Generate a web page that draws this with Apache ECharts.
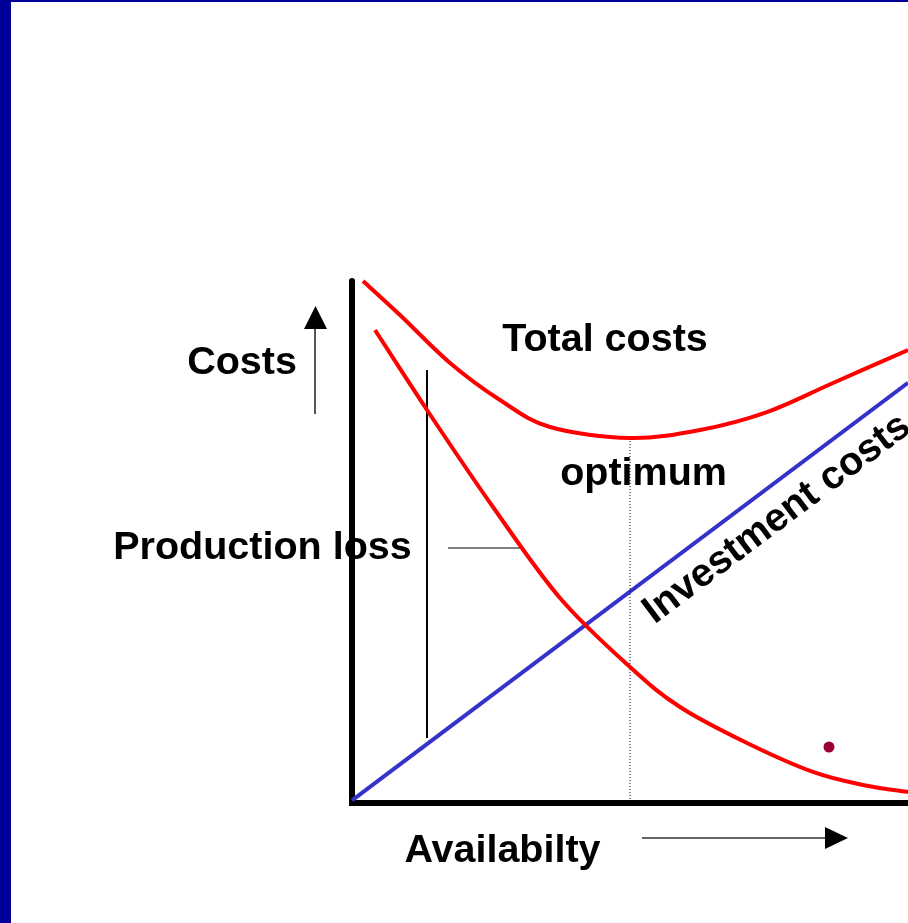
<!DOCTYPE html>
<html>
<head>
<meta charset="utf-8">
<script src="https://cdn.jsdelivr.net/npm/echarts@6/dist/echarts.min.js"></script>
<style>
html,body{margin:0;padding:0;background:#fff;}
#chart{width:908px;height:923px;}
</style>
</head>
<body>
<div id="chart"></div>
<script>
// Availability (x, 0-100) and cost (y, 0-100) readings
const totalAvail = [1.98, 8.63, 17.63, 26.62, 35.61, 50.0, 62.59, 74.64, 86.51, 100];
const totalCosts = [100, 93.49, 84.29, 77.20, 72.03, 69.92, 71.46, 74.90, 80.46, 86.78];
const lossAvail = [4.14, 13.49, 25.36, 37.41, 50.00, 58.99, 71.04, 82.91, 91.91, 100];
const lossCosts = [90.61, 75.29, 56.70, 39.27, 26.05, 18.39, 11.49, 5.94, 3.45, 2.11];
const investAvail = [0, 100];
const investCosts = [0.5, 80.5];
const optimumAvail = 50;
const optimumCost = 69.92;
const lossBar = {x: 13.49, from: 12.45, to: 82.95};
const leader = {from: 17.27, to: 30.40, y: 48.85};
const dotPoint = [85.79, 10.73];
const labels = ['Total costs', 'Costs', 'Production loss', 'optimum', 'Availabilty', 'Investment costs'];

const zip = (a, b) => a.map((v, i) => [v, b[i]]);
const chart = echarts.init(document.getElementById('chart'), null, {renderer: 'canvas'});
const font = {fontFamily: 'Liberation Sans, Arial, sans-serif', fontWeight: 'bold', fontSize: 39.5, color: '#000'};
const lbl = (name, x, y, extra) => ({name, value: [x, y], label: Object.assign({show: true, position: 'inside', formatter: '{b}', align: 'center', verticalAlign: 'middle'}, font, extra || {})});

// Smooth curve through the data points (Catmull-Rom), positioned through the chart's axes
function curveSeries(xs, ys, color) {
  const pts = zip(xs, ys);
  return {
    type: 'custom', clip: false, z: 4, silent: true,
    data: [0],
    renderItem: function (params, api) {
      const p = pts.map(v => api.coord(v));
      let d = 'M' + p[0][0] + ',' + p[0][1];
      for (let i = 0; i < p.length - 1; i++) {
        const p0 = p[i - 1] || p[i], p1 = p[i], p2 = p[i + 1], p3 = p[i + 2] || p[i + 1];
        const c1 = [p1[0] + (p2[0] - p0[0]) / 6, p1[1] + (p2[1] - p0[1]) / 6];
        const c2 = [p2[0] - (p3[0] - p1[0]) / 6, p2[1] - (p3[1] - p1[1]) / 6];
        d += ' C' + c1[0] + ',' + c1[1] + ' ' + c2[0] + ',' + c2[1] + ' ' + p2[0] + ',' + p2[1];
      }
      return {type: 'path', shape: {pathData: d}, style: {fill: 'none', stroke: color, lineWidth: 4}};
    }
  };
}

chart.setOption({
  animation: false,
  backgroundColor: '#fff',
  graphic: [
    {type: 'rect', left: 0, top: 0, shape: {width: 11, height: 923}, style: {fill: '#000099'}, z: 100},
    {type: 'rect', left: 0, top: 0, shape: {width: 908, height: 2}, style: {fill: '#000099'}, z: 100}
  ],
  grid: {left: 352, top: 281, right: 0, bottom: 120},
  xAxis: {type: 'value', min: 0, max: 100, axisLine: {show: true, onZero: false, lineStyle: {color: '#000', width: 6, cap: 'square'}}, axisTick: {show: false}, axisLabel: {show: false}, splitLine: {show: false}},
  yAxis: {type: 'value', min: 0, max: 100, axisLine: {show: true, onZero: false, lineStyle: {color: '#000', width: 6}}, axisTick: {show: false}, axisLabel: {show: false}, splitLine: {show: false}},
  series: [
    {type: 'line', data: zip(investAvail, investCosts), showSymbol: false, clip: false, lineStyle: {color: '#3333CC', width: 4}, z: 2},
    {type: 'line', data: [[optimumAvail, optimumCost], [optimumAvail, 0]], showSymbol: false, clip: false, lineStyle: {color: '#000', width: 1, type: [1, 2]}, z: 2},
    {type: 'line', data: [[lossBar.x, lossBar.from], [lossBar.x, lossBar.to]], showSymbol: false, clip: false, lineStyle: {color: '#000', width: 2}, z: 3},
    {type: 'line', data: [[leader.from, leader.y], [leader.to, leader.y]], showSymbol: false, clip: false, lineStyle: {color: '#000', width: 1.2}, z: 3},
    curveSeries(totalAvail, totalCosts, '#FF0000'),
    curveSeries(lossAvail, lossCosts, '#FF0000'),
    // axis direction arrows
    {type: 'lines', coordinateSystem: 'cartesian2d', clip: false, z: 3, silent: true,
     data: [
       {coords: [[-6.65, 74.5], [-6.65, 90.8]], lineStyle: {color: '#555', width: 2}},
       {coords: [[52.16, -6.70], [85.1, -6.70]], lineStyle: {color: '#333', width: 1.5}}
     ],
     lineStyle: {opacity: 1, curveness: 0}},
    {type: 'scatter', clip: false, symbol: 'triangle', z: 5,
     data: [{value: [-6.56, 93.0], symbolSize: [23, 23], symbolRotate: 0}, {value: [87.14, -6.70], symbolSize: [22, 23], symbolRotate: -90}],
     itemStyle: {color: '#000', opacity: 1}},
    {type: 'scatter', clip: false, symbol: 'circle', symbolSize: 11, data: [dotPoint], itemStyle: {color: '#990033', opacity: 1}, z: 5},
    {type: 'scatter', clip: false, symbolSize: 0, z: 10, silent: true, itemStyle: {opacity: 1},
     data: [
       lbl(labels[0], 45.50, 88.70),
       lbl(labels[1], -19.78, 84.20),
       lbl(labels[2], -16.10, 48.90),
       lbl(labels[3], 52.43, 62.95),
       lbl(labels[4], 27.07, -9.30),
       lbl(labels[5], 76.44, 54.41, {rotate: 36.87})
     ]}
  ]
});
</script>
</body>
</html>
